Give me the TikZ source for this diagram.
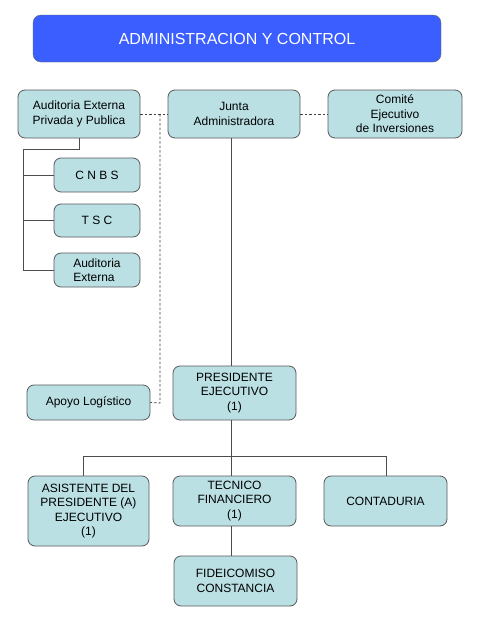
\documentclass[tikz,border=0pt]{standalone}
\usepackage{fontspec}
\setmainfont{Liberation Sans}
\definecolor{boxfill}{RGB}{186,224,228}
\definecolor{boxdraw}{RGB}{90,90,90}
\definecolor{titleblue}{RGB}{58,94,255}
\begin{document}
\begin{tikzpicture}[x=1pt,y=-1pt,
  box/.style={draw=boxdraw,fill=boxfill,rounded corners=7pt,line width=0.8pt,
    font=\fontsize{12}{14.5}\selectfont,align=center,inner sep=0pt},
  conn/.style={draw=black!70,line width=0.8pt},
  dconn/.style={draw=black!75,line width=0.8pt,dash pattern=on 2.5pt off 2pt}]
\useasboundingbox (0,0) rectangle (480,640);
\fill[white] (0,0) rectangle (480,640);
% title
\node[draw=black!60,fill=titleblue,rounded corners=8pt,minimum width=408pt,minimum height=47pt,
  text=white,font=\fontsize{16}{19}\selectfont] (title) at (237,38.5) {ADMINISTRACION Y CONTROL};
% top row
\node[box,minimum width=122pt,minimum height=48pt] (aud) at (79,114) {Auditoria Externa\\Privada y Publica};
\node[box,minimum width=132pt,minimum height=48pt] (junta) at (234,114) {Junta\\Administradora};
\node[box,minimum width=134pt,minimum height=48pt] (comite) at (395,114) {Comité\\Ejecutivo\\de Inversiones};
% left column
\node[box,minimum width=86pt,minimum height=34pt] (cnbs) at (97,175) {C N B S};
\node[box,minimum width=86pt,minimum height=33pt] (tsc) at (97,220.5) {T S C};
\node[box,minimum width=86pt,minimum height=34pt,align=left] (audext) at (97,270) {Auditoria\\Externa};
% president
\node[box,minimum width=123pt,minimum height=54pt] (pres) at (234.5,393) {PRESIDENTE\\EJECUTIVO\\(1)};
\node[box,minimum width=123pt,minimum height=35pt] (apoyo) at (88.5,402.5) {Apoyo Logístico};
% bottom row
\node[box,minimum width=121pt,minimum height=70pt] (asis) at (88.5,511) {ASISTENTE DEL\\PRESIDENTE (A)\\EJECUTIVO\\(1)};
\node[box,minimum width=123pt,minimum height=50pt] (tec) at (234.5,501) {TECNICO\\FINANCIERO\\(1)};
\node[box,minimum width=123pt,minimum height=50pt] (cont) at (385.5,501) {CONTADURIA};
\node[box,minimum width=123pt,minimum height=50pt] (fid) at (235.5,581) {FIDEICOMISO\\CONSTANCIA};
% coordinates
\coordinate (a1) at (79,149);
\coordinate (a2) at (23,149);
\coordinate (dtop) at (160,114);
\coordinate (dbot) at (160,403);
\coordinate (hb) at (231,456);
\coordinate (hl) at (83,456);
\coordinate (hr) at (386,456);
% connectors
\draw[dconn] (aud.east) -- (junta.west);
\draw[dconn] (junta.east) -- (comite.west);
\draw[dconn] (dtop) -- (dbot) -- (apoyo.east);
\draw[conn] (aud.south) -- (a1) -- (a2) |- (audext.west);
\draw[conn] (a2 |- cnbs.west) -- (cnbs.west);
\draw[conn] (a2 |- tsc.west) -- (tsc.west);
\draw[conn] (junta.south -| hb) -- (pres.north -| hb);
\draw[conn] (pres.south -| hb) -- (hb);
\draw[conn] (hl) -- (hr);
\draw[conn] (hl) -- (asis.north -| hl);
\draw[conn] (hb) -- (tec.north -| hb);
\draw[conn] (hr) -- (cont.north -| hr);
\draw[conn] (tec.south -| hb) -- (fid.north -| hb);
\end{tikzpicture}
\end{document}
